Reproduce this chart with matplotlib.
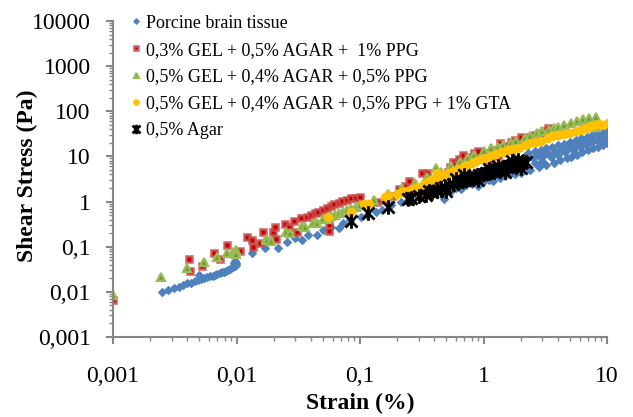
import numpy as np
import matplotlib
matplotlib.use('Agg')
import matplotlib.pyplot as plt
from matplotlib.path import Path
from matplotlib.ticker import LogLocator, FuncFormatter, NullFormatter

plt.rcParams['font.family'] = ['Liberation Serif', 'DejaVu Serif']

# Porcine brain tissue
blue_x = [0.0025, 0.0028, 0.0031, 0.0034, 0.0037, 0.0040, 0.0043, 0.0046, 0.0049, 0.0050,
          0.0052, 0.0055, 0.0058, 0.0061, 0.0064, 0.0067, 0.0070, 0.0073, 0.0076, 0.0079,
          0.0082, 0.0085, 0.0088, 0.0091, 0.0094, 0.0097, 0.0099, 0.0099, 0.0098, 0.0095,
          0.0134, 0.0171, 0.0218, 0.0258, 0.030, 0.034, 0.038, 0.045, 0.0497, 0.0577,
          0.067, 0.0735, 0.0837, 0.101, 0.115, 0.134, 0.152, 0.177, 0.213, 0.243,
          0.293, 0.327, 0.387, 0.476, 0.513,
          0.55, 0.60, 0.66, 0.72, 0.80, 0.90, 1.0, 1.1, 1.2, 1.35, 1.5, 1.65, 1.8,
          2.0, 2.4, 2.8, 3.2, 3.7, 4.2, 4.7, 5.1, 5.7, 6.3, 7.0, 7.7, 8.5, 9.3, 10.0,
          2.2, 2.5, 2.8, 3.1, 3.4, 3.8, 4.2, 4.6, 5.0, 5.5, 6.0, 6.6, 7.2, 7.9, 8.6, 9.3, 10.0,
          2.3, 2.6, 2.9, 3.2, 3.6, 4.0, 4.5, 5.0, 5.6, 6.2, 6.9, 7.6, 8.4, 9.2, 10.0,
          2.6, 3.0, 3.5, 4.0, 4.6, 5.3, 6.0, 6.8, 7.6, 8.5, 9.5, 10.0]
blue_y = [0.010, 0.011, 0.012, 0.013, 0.014, 0.0155, 0.016, 0.017, 0.018, 0.024,
          0.019, 0.020, 0.021, 0.022, 0.023, 0.024, 0.025, 0.026, 0.027, 0.028,
          0.029, 0.031, 0.032, 0.033, 0.035, 0.037, 0.040, 0.044, 0.049, 0.043,
          0.073, 0.094, 0.094, 0.127, 0.156, 0.141, 0.182, 0.182, 0.234, 0.273,
          0.26, 0.335, 0.39, 0.455, 0.505, 0.588, 0.65, 0.84, 0.98, 1.08,
          1.26, 1.55, 1.63, 1.14, 1.81,
          1.7, 2.0, 1.9, 2.3, 2.5, 2.2, 2.8, 3.0, 2.9, 3.4, 3.6, 4.0, 4.1,
          4.3, 5.0, 5.8, 6.5, 7.2, 8.2, 9.0, 9.8, 11.0, 12.3, 13.9, 15.0, 16.5, 18.0, 20.0,
          8.5, 9.2, 10.0, 10.8, 11.6, 12.6, 13.7, 14.8, 16.0, 17.3, 18.7, 20.2, 21.8, 23.5, 25.3, 27.0, 29.0,
          12.0, 13.0, 14.0, 15.0, 16.3, 17.6, 19.2, 21.0, 23.0, 25.0, 27.5, 30.0, 32.5, 35.0, 38.0,
          7.0, 8.0, 9.5, 11.0, 12.5, 14.0, 16.0, 18.0, 20.5, 22.5, 25.0, 33.0]

# 0,3% GEL + 0,5% AGAR + 1% PPG
red_x = [0.001, 0.0041, 0.0042, 0.0053, 0.0066, 0.0074, 0.0083, 0.0107, 0.0122, 0.0134,
         0.0137, 0.0155, 0.0165, 0.0198, 0.0206, 0.021, 0.0248, 0.0264, 0.029, 0.031,
         0.0335, 0.037, 0.040, 0.043, 0.046, 0.050, 0.054, 0.058, 0.062, 0.067,
         0.072, 0.078, 0.085, 0.092, 0.100, 0.056, 0.056,
         0.138, 0.16, 0.18, 0.205, 0.23, 0.25, 0.27, 0.30, 0.32, 0.35, 0.38, 0.43, 0.50,
         0.52, 0.54, 0.57, 0.59, 0.63, 0.68, 0.75,
         0.83, 0.90, 0.95, 1.05, 1.1, 1.2, 1.3, 1.37, 1.45, 1.55, 1.66, 1.66, 1.8, 1.9,
         2.0, 2.15, 2.2, 2.4, 2.6, 2.9, 3.1, 3.3]
red_y = [0.0065, 0.053, 0.029, 0.037, 0.073, 0.053, 0.109, 0.080, 0.164, 0.14,
         0.099, 0.12, 0.212, 0.21, 0.27, 0.15, 0.32, 0.27, 0.37, 0.21,
         0.43, 0.46, 0.50, 0.55, 0.60, 0.66, 0.72, 0.80, 0.88, 0.95,
         1.02, 1.10, 1.18, 1.22, 1.26, 0.30, 0.22,
         0.98, 1.1, 1.3, 1.9, 2.2, 2.85, 2.0, 1.6, 4.4, 4.3, 2.4, 2.8, 3.6,
         4.5, 5.8, 7.5, 6.6, 8.8, 10.7, 9.5,
         11.9, 13.0, 9.2, 12.0, 8.5, 14.0, 10.0, 19.9, 12.6, 17.0, 20.8, 14.0, 23.0, 16.2,
         27.0, 18.0, 25.0, 27.0, 30.0, 33.0, 36.0, 42.0]

# 0,5% GEL + 0,4% AGAR + 0,5% PPG
green_x = [0.001, 0.00245, 0.004, 0.0055, 0.007, 0.0084, 0.0094, 0.0099, 0.0099, 0.0174,
           0.0178, 0.019, 0.0254, 0.027, 0.034, 0.036, 0.042, 0.045, 0.050, 0.054,
           0.058, 0.063, 0.068, 0.073, 0.079, 0.085, 0.092, 0.100,
           0.13, 0.17, 0.22, 0.28, 0.35, 0.41, 0.45, 0.55, 0.65, 0.75, 0.84,
           1.0, 1.15, 1.3, 1.45, 1.66, 1.85, 2.15, 2.4, 2.7, 3.0, 3.4, 3.7, 4.0, 4.5,
           5.1, 5.7, 6.4, 7.2, 8.1, 6.5, 8.1]
green_y = [0.0085, 0.021, 0.034, 0.046, 0.059, 0.073, 0.076, 0.084, 0.070, 0.148,
           0.141, 0.134, 0.21, 0.20, 0.29, 0.27, 0.34, 0.34, 0.41, 0.42,
           0.47, 0.50, 0.55, 0.60, 0.65, 0.70, 0.76, 0.83,
           1.1, 1.5, 2.0, 2.6, 3.5, 5.6, 4.5, 6.0, 7.5, 9.0, 10.7,
           13.0, 15.0, 16.5, 18.0, 19.9, 22.5, 25.8, 29.0, 33.0, 36.0, 39.0, 42.0, 45.0, 50.0,
           55.0, 61.0, 67.0, 71.0, 75.0, 42.0, 45.0]

# 0,5% GEL + 0,4% AGAR + 0,5% PPG + 1% GTA
yellow_x = [0.055, 0.084, 0.108, 0.118, 0.16, 0.167, 0.20, 0.22, 0.24, 0.265,
            0.29, 0.33, 0.36, 0.39, 0.42, 0.44, 0.48, 0.52, 0.57, 0.62,
            0.68, 0.74, 0.80, 0.87, 0.95, 1.05, 1.15, 1.27, 1.4, 1.55,
            1.7, 1.9, 2.15, 2.4, 2.65, 2.9, 3.3, 3.6, 4.0, 4.5,
            5.0, 5.6, 6.2, 6.8, 7.4, 8.0, 8.6, 9.3, 10.2]
yellow_y = [0.46, 0.59, 0.88, 0.88, 1.26, 1.4, 1.45, 1.63, 1.74, 1.9,
            2.1, 2.45, 2.9, 3.2, 4.3, 3.5, 3.9, 4.3, 4.8, 5.3,
            5.9, 6.6, 7.2, 7.9, 8.6, 9.4, 10.3, 11.3, 12.4, 13.6,
            14.6, 15.6, 17.5, 19.5, 21.0, 22.0, 26.0, 28.8, 30.0, 31.0,
            33.0, 36.0, 39.0, 43.0, 48.0, 49.0, 53.0, 50.0, 56.0]

# 0,5% Agar
black_x = [0.084, 0.117, 0.167, 0.243, 0.26, 0.30, 0.34, 0.38, 0.42, 0.45,
           0.49, 0.53, 0.57, 0.62, 0.66, 0.71, 0.76, 0.80, 0.86, 0.92,
           0.98, 1.04, 1.10, 1.17, 1.24, 1.31, 1.38, 1.46, 1.54, 1.62,
           1.70, 1.78, 1.86, 1.95, 2.05, 2.2,
           0.50, 0.90, 1.50, 2.0, 0.70, 1.30, 1.90, 0.36, 0.60, 1.10, 1.70]
black_y = [0.37, 0.56, 0.76, 1.14, 1.2, 1.3, 1.4, 1.6, 1.75, 2.0,
           2.1, 2.3, 2.45, 2.7, 2.85, 3.0, 3.2, 3.3, 3.5, 3.8,
           4.0, 4.2, 4.4, 4.7, 4.9, 5.2, 5.4, 5.7, 5.9, 6.2,
           6.5, 6.7, 7.0, 7.2, 7.5, 7.5,
           1.7, 3.0, 4.6, 5.5, 3.8, 6.2, 8.5, 1.7, 3.1, 5.4, 8.0]

labels = ['Porcine brain tissue',
          '0,3% GEL + 0,5% AGAR +  1% PPG',
          '0,5% GEL + 0,4% AGAR + 0,5% PPG',
          '0,5% GEL + 0,4% AGAR + 0,5% PPG + 1% GTA',
          '0,5% Agar']

# star marker: X with a vertical bar
star = Path([(-1, -1), (1, 1), (-1, 1), (1, -1), (0, -1.2), (0, 1.2)],
            [Path.MOVETO, Path.LINETO, Path.MOVETO, Path.LINETO, Path.MOVETO, Path.LINETO])


def comma(v, pos):
    return '{:g}'.format(v).replace('.', ',')


fig = plt.figure(figsize=(6.33, 4.17), dpi=100)
ax = fig.add_axes([113 / 633, 1 - 337 / 417, 494 / 633, 316 / 417])

ax.plot(blue_x, blue_y, 'D', ls='none', ms=4.4, color='#4F81BD', mec='#4F81BD', mew=0.8,
        label=labels[0])
ax.plot(red_x, red_y, 's', ls='none', ms=4.8, mfc='#C00000', mec=(0.80, 0.31, 0.30, 0.8), mew=1.9,
        label=labels[1])
ax.plot(green_x, green_y, '^', ls='none', ms=5.4, mfc='#6E9E30', mec='#9BBB59', mew=1.6,
        label=labels[2])
ax.plot(yellow_x, yellow_y, 'o', ls='none', ms=5.8, color='#FFC000', mec='#FFC000',
        label=labels[3])
ax.plot(black_x, black_y, marker=star, ls='none', ms=10.5, color='black', mec='black', mew=2.0,
        label=labels[4])

ax.set_xscale('log')
ax.set_yscale('log')
ax.set_xlim(0.001, 10)
ax.set_ylim(0.001, 10000)

ax.xaxis.set_major_locator(LogLocator(base=10, numticks=10))
ax.yaxis.set_major_locator(LogLocator(base=10, numticks=10))
ax.xaxis.set_minor_locator(LogLocator(base=10, subs=np.arange(2, 10), numticks=20))
ax.yaxis.set_minor_locator(LogLocator(base=10, subs=np.arange(2, 10), numticks=20))
ax.xaxis.set_major_formatter(FuncFormatter(comma))
ax.yaxis.set_major_formatter(FuncFormatter(comma))
ax.xaxis.set_minor_formatter(NullFormatter())
ax.yaxis.set_minor_formatter(NullFormatter())

for s in ['top', 'right']:
    ax.spines[s].set_visible(False)
for s in ['left', 'bottom']:
    ax.spines[s].set_color('#868686')
    ax.spines[s].set_linewidth(1.5)

ax.tick_params(which='major', direction='out', length=5, width=1.5, color='#868686', labelsize=17)
ax.tick_params(which='minor', direction='out', length=3, width=1.0, color='#868686')
ax.tick_params(axis='x', which='major', pad=16)
ax.tick_params(axis='y', which='major', pad=11)

ax.set_xlabel('Strain (%)', fontsize=17, fontweight='bold')
ax.set_ylabel('Shear Stress (Pa)', fontsize=17, fontweight='bold')
ax.yaxis.set_label_coords(-0.152, 0.51)
ax.xaxis.set_label_coords(0.5, -0.178)

ax.legend(loc='upper left', bbox_to_anchor=(0.035, 1.02), frameon=False, fontsize=13,
          handlelength=0.6, handletextpad=0.25, labelspacing=0.55, borderpad=0,
          borderaxespad=0, markerscale=0.65)

fig.savefig('out.png', dpi=100)
